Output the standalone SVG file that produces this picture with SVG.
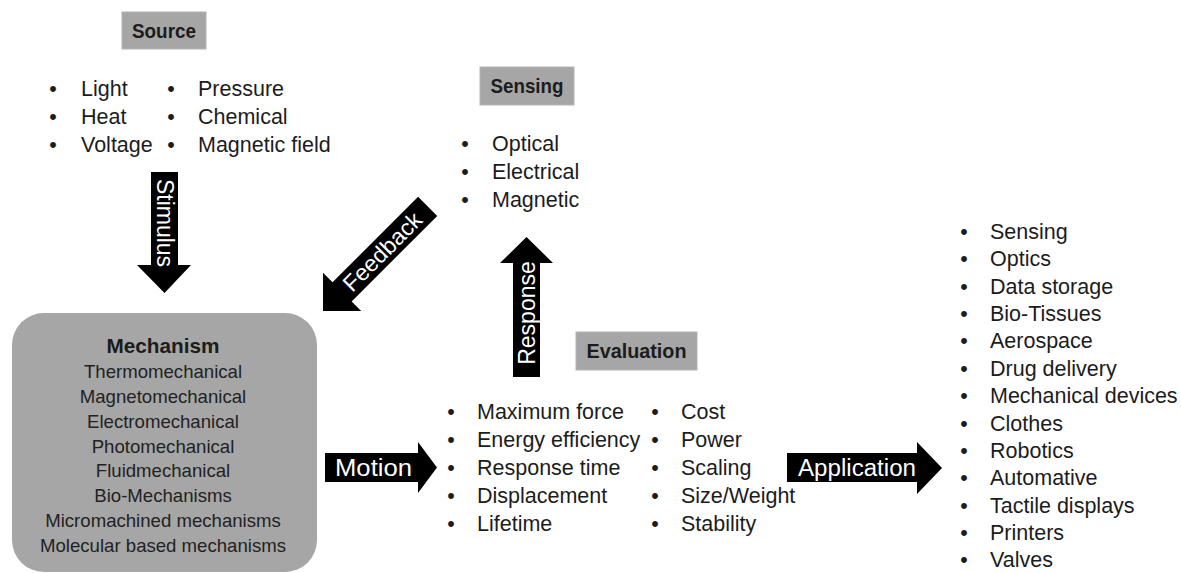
<svg xmlns="http://www.w3.org/2000/svg" width="1181" height="573" viewBox="0 0 1181 573">
<style>
text{font-family:"Liberation Sans",Arial,sans-serif;fill:#1c1c1c}
.hd{font-weight:bold;font-size:20.5px;text-anchor:middle}
.li{font-size:21.5px}
.bu{font-size:21.5px;text-anchor:middle}
.mc{font-size:18.6px;text-anchor:middle;fill:#222}
.lab{font-size:23px;fill:#fff}
.box{fill:#a6a6a6;stroke:#b4b4b4;stroke-width:1}
.arr{fill:#000}
</style>
<rect width="1181" height="573" fill="#fff"/>

<g id="source">
<rect class="box" x="122" y="12" width="84" height="37"/>
<text class="hd" x="164" y="38" textLength="64" lengthAdjust="spacingAndGlyphs">Source</text>
<text class="bu" x="53" y="96">•</text><text class="li" x="81" y="96">Light</text>
<text class="bu" x="53" y="124">•</text><text class="li" x="81" y="124">Heat</text>
<text class="bu" x="53" y="152">•</text><text class="li" x="81" y="152">Voltage</text>
<text class="bu" x="171" y="96">•</text><text class="li" x="198" y="96">Pressure</text>
<text class="bu" x="171" y="124">•</text><text class="li" x="198" y="124">Chemical</text>
<text class="bu" x="171" y="152">•</text><text class="li" x="198" y="152">Magnetic field</text>
</g>

<g id="sensing">
<rect class="box" x="480" y="67" width="94" height="38"/>
<text class="hd" x="527" y="93" textLength="73" lengthAdjust="spacingAndGlyphs">Sensing</text>
<text class="bu" x="465" y="151">•</text><text class="li" x="492" y="151">Optical</text>
<text class="bu" x="465" y="179">•</text><text class="li" x="492" y="179">Electrical</text>
<text class="bu" x="465" y="207">•</text><text class="li" x="492" y="207">Magnetic</text>
</g>

<g id="mechanism">
<rect x="12" y="313" width="305" height="259" rx="32" fill="#a6a6a6"/>
<text class="hd" x="163" y="353" textLength="113" lengthAdjust="spacingAndGlyphs">Mechanism</text>
<text class="mc" x="163" y="378">Thermomechanical</text>
<text class="mc" x="163" y="403">Magnetomechanical</text>
<text class="mc" x="163" y="428">Electromechanical</text>
<text class="mc" x="163" y="453">Photomechanical</text>
<text class="mc" x="163" y="477">Fluidmechanical</text>
<text class="mc" x="163" y="502">Bio-Mechanisms</text>
<text class="mc" x="163" y="527">Micromachined mechanisms</text>
<text class="mc" x="163" y="552">Molecular based mechanisms</text>
</g>

<g id="evaluation">
<rect class="box" x="576" y="332" width="121" height="38"/>
<text class="hd" x="636.5" y="358" textLength="100" lengthAdjust="spacingAndGlyphs">Evaluation</text>
<text class="bu" x="451" y="419">•</text><text class="li" x="477" y="419">Maximum force</text>
<text class="bu" x="451" y="447">•</text><text class="li" x="477" y="447">Energy efficiency</text>
<text class="bu" x="451" y="475">•</text><text class="li" x="477" y="475">Response time</text>
<text class="bu" x="451" y="503">•</text><text class="li" x="477" y="503">Displacement</text>
<text class="bu" x="451" y="531">•</text><text class="li" x="477" y="531">Lifetime</text>
<text class="bu" x="655" y="419">•</text><text class="li" x="681" y="419">Cost</text>
<text class="bu" x="655" y="447">•</text><text class="li" x="681" y="447">Power</text>
<text class="bu" x="655" y="475">•</text><text class="li" x="681" y="475">Scaling</text>
<text class="bu" x="655" y="503">•</text><text class="li" x="681" y="503">Size/Weight</text>
<text class="bu" x="655" y="531">•</text><text class="li" x="681" y="531">Stability</text>
</g>

<g id="application">
<text class="bu" x="964" y="239">•</text><text class="li" x="990" y="239">Sensing</text>
<text class="bu" x="964" y="266.4">•</text><text class="li" x="990" y="266.4">Optics</text>
<text class="bu" x="964" y="293.7">•</text><text class="li" x="990" y="293.7">Data storage</text>
<text class="bu" x="964" y="321">•</text><text class="li" x="990" y="321">Bio-Tissues</text>
<text class="bu" x="964" y="348.4">•</text><text class="li" x="990" y="348.4">Aerospace</text>
<text class="bu" x="964" y="375.8">•</text><text class="li" x="990" y="375.8">Drug delivery</text>
<text class="bu" x="964" y="403.1">•</text><text class="li" x="990" y="403.1">Mechanical devices</text>
<text class="bu" x="964" y="430.5">•</text><text class="li" x="990" y="430.5">Clothes</text>
<text class="bu" x="964" y="457.8">•</text><text class="li" x="990" y="457.8">Robotics</text>
<text class="bu" x="964" y="485.2">•</text><text class="li" x="990" y="485.2">Automative</text>
<text class="bu" x="964" y="512.5">•</text><text class="li" x="990" y="512.5">Tactile displays</text>
<text class="bu" x="964" y="539.9">•</text><text class="li" x="990" y="539.9">Printers</text>
<text class="bu" x="964" y="567.2">•</text><text class="li" x="990" y="567.2">Valves</text>
</g>

<g id="connectors">
<g id="stimulus">
<polygon class="arr" points="151,172 178,172 178,265 191,265 164.5,293 137,265 151,265"/>
<text class="lab" transform="translate(164.5,223) rotate(90)" x="0" y="8" text-anchor="middle">Stimulus</text>
</g>
<g id="response">
<polygon class="arr" points="513,377 540,377 540,263 553,263 526.5,237 500,263 513,263"/>
<text class="lab" transform="translate(526.5,313) rotate(-90)" x="0" y="8" text-anchor="middle">Response</text>
</g>
<g id="feedback" transform="translate(323,311) rotate(-45)">
<polygon class="arr" points="0,0 27,-27 27,-13.5 148,-13.5 148,13.5 27,13.5 27,27"/>
<text class="lab" x="84" y="8" text-anchor="middle">Feedback</text>
</g>
<g id="motion">
<polygon class="arr" points="325,453 418,453 418,442 437,467.5 418,493 418,482 325,482"/>
<text class="lab" x="335" y="476" textLength="77" lengthAdjust="spacingAndGlyphs">Motion</text>
</g>
<g id="app-arrow">
<polygon class="arr" points="787,453 917,453 917,442 942,468 917,494 917,482 787,482"/>
<text class="lab" x="798" y="476" textLength="118" lengthAdjust="spacingAndGlyphs">Application</text>
</g>
</g>
</svg>
